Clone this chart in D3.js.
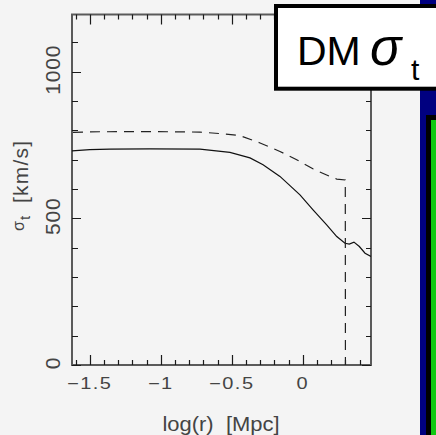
<!DOCTYPE html>
<html>
<head>
<meta charset="utf-8">
<script src="https://cdn.jsdelivr.net/npm/d3@7"></script>
<style>
  html, body { margin: 0; padding: 0; background: #f4f4f4; }
  svg { display: block; }
  text { font-family: 'Liberation Sans', Arial, sans-serif; fill: #444; }
</style>
</head>
<body>
<div id="chart"></div>
<script>
// solid curve: log(r) [Mpc] vs sigma_t [km/s]
const LOG_R_SOLID = [-1.625, -1.5, -1.357, -1.076, -0.724, -0.513, -0.372,
  -0.28, -0.161, -0.02, 0.072, 0.168, 0.239, 0.297, 0.327, 0.36, 0.398,
  0.438, 0.48];
const SIGMA_SOLID = [730, 734, 736, 737, 736, 725, 706, 683, 643, 580, 529,
  478, 438, 415, 412, 419, 404, 381, 370];

// dashed curve, ends with a drop to zero
const LOG_R_DASHED = [-1.618, -1.5, -1.076, -0.724, -0.583, -0.442, -0.301,
  -0.161, -0.043, 0.074, 0.191, 0.239, 0.299, 0.3];
const SIGMA_DASHED = [793, 795, 796, 794, 789, 782, 757, 728, 700, 668, 643,
  634, 631, 0];

const X_MAJOR_TICKS = [-1.5, -1, -0.5, 0];
const X_TICK_LABELS = ['\u22121.5', '\u22121', '\u22120.5', '0'];
const X_MINOR_TICKS = [-1.6, -1.4, -1.3, -1.2, -1.1, -0.9, -0.8, -0.7, -0.6,
  -0.4, -0.3, -0.2, -0.1, 0.1, 0.2, 0.3, 0.4];
const Y_MAJOR_TICKS = [0, 500, 1000];
const Y_TICK_LABELS = ['0', '500', '1000'];
const Y_MINOR_TICKS = [100, 200, 300, 400, 600, 700, 800, 900, 1100];

const WIDTH = 436;
const HEIGHT = 435;
const PLOT = {left: 72, right: 371, top: 14.5, bottom: 365};
const AXIS_COLOR = '#5a5a5a';
const TICK_COLOR = '#1a1a1a';

const xScale = d3.scaleLinear().domain([-1.625, 0.48])
    .range([PLOT.left, PLOT.right]);
const yScale = d3.scaleLinear().domain([0, 1195])
    .range([PLOT.bottom, PLOT.top]);

const svg = d3.select('#chart')
    .append('svg')
    .attr('width', WIDTH)
    .attr('height', HEIGHT);

svg.append('rect')
    .attr('width', WIDTH)
    .attr('height', HEIGHT)
    .attr('fill', '#f4f4f4');

// frame
svg.append('rect')
    .attr('x', PLOT.left)
    .attr('y', PLOT.top)
    .attr('width', PLOT.right - PLOT.left)
    .attr('height', PLOT.bottom - PLOT.top)
    .attr('fill', 'none')
    .attr('stroke', AXIS_COLOR)
    .attr('stroke-width', 2);

// tick marks on all four sides: [values, side, length]
const tickSpecs = [
  [X_MINOR_TICKS, 'bottom', 5], [X_MAJOR_TICKS, 'bottom', 10],
  [X_MINOR_TICKS, 'top', 5], [X_MAJOR_TICKS, 'top', 10],
  [Y_MINOR_TICKS, 'left', 6], [Y_MAJOR_TICKS, 'left', 9],
  [Y_MINOR_TICKS, 'right', 5], [Y_MAJOR_TICKS, 'right', 9],
];
const tickPaths = [];
for (const [values, side, len] of tickSpecs) {
  for (const v of values) {
    const px = Math.round(xScale(v)) + 0.5;
    const py = Math.round(yScale(v)) + 0.5;
    if (side === 'bottom') {
      tickPaths.push(`M${px},${PLOT.bottom}v${-len}`);
    } else if (side === 'top') {
      tickPaths.push(`M${px},${PLOT.top}v${len}`);
    } else if (side === 'left') {
      tickPaths.push(`M${PLOT.left},${py}h${len}`);
    } else {
      tickPaths.push(`M${PLOT.right},${py}h${-len}`);
    }
  }
}
svg.append('path')
    .attr('d', tickPaths.join(''))
    .attr('fill', 'none')
    .attr('stroke', TICK_COLOR)
    .attr('stroke-width', 1.2);

// x tick labels, a bit squashed vertically like the original
svg.selectAll('.x-label')
    .data(X_MAJOR_TICKS)
    .join('text')
    .attr('class', 'x-label')
    .attr('transform', d => `translate(${xScale(d)},389) scale(1,0.78)`)
    .attr('text-anchor', 'middle')
    .attr('font-size', 20)
    .attr('letter-spacing', 1.5)
    .text((d, i) => X_TICK_LABELS[i]);

// y tick labels, rotated
svg.selectAll('.y-label')
    .data(Y_MAJOR_TICKS)
    .join('text')
    .attr('class', 'y-label')
    .attr('transform', d => `translate(60,${yScale(d) - 2}) rotate(-90)`)
    .attr('text-anchor', 'middle')
    .attr('font-size', 21)
    .attr('letter-spacing', 0.8)
    .text((d, i) => Y_TICK_LABELS[i]);

// axis titles
svg.append('text')
    .attr('transform', 'translate(221,431) scale(1,0.9)')
    .attr('text-anchor', 'middle')
    .attr('font-size', 22)
    .text('log(r)\u00a0 [Mpc]');

const yTitle = svg.append('text')
    .attr('transform', 'translate(28,231) rotate(-90)')
    .attr('font-size', 21);
yTitle.append('tspan').attr('x', 0).attr('dy', -4)
    .attr('font-size', 16).text('\u03c3');
yTitle.append('tspan').attr('x', 11).attr('dy', 6)
    .attr('font-size', 15).text('t');
yTitle.append('tspan').attr('x', 28).attr('dy', -2)
    .attr('letter-spacing', 1.2).text('[km/s]');

// curves
svg.append('clipPath')
    .attr('id', 'plot-clip')
    .append('rect')
    .attr('x', PLOT.left)
    .attr('y', PLOT.top)
    .attr('width', PLOT.right - PLOT.left)
    .attr('height', PLOT.bottom - PLOT.top);

const line = d3.line()
    .x(d => xScale(d[0]))
    .y(d => yScale(d[1]));

svg.append('path')
    .datum(d3.zip(LOG_R_SOLID, SIGMA_SOLID))
    .attr('clip-path', 'url(#plot-clip)')
    .attr('d', line)
    .attr('fill', 'none')
    .attr('stroke', '#111')
    .attr('stroke-width', 1.2);

svg.append('path')
    .datum(d3.zip(LOG_R_DASHED, SIGMA_DASHED))
    .attr('clip-path', 'url(#plot-clip)')
    .attr('d', line)
    .attr('fill', 'none')
    .attr('stroke', '#222')
    .attr('stroke-width', 1.2)
    .attr('stroke-dasharray', '10,7');

// neighbouring panel peeking in on the right
svg.append('rect')
    .attr('x', 420).attr('y', 0)
    .attr('width', 16).attr('height', HEIGHT)
    .attr('fill', '#000080');
svg.append('rect')
    .attr('x', 426).attr('y', 115)
    .attr('width', 20).attr('height', HEIGHT)
    .attr('fill', '#000');
svg.append('rect')
    .attr('x', 431).attr('y', 120)
    .attr('width', 20).attr('height', HEIGHT)
    .attr('fill', '#10c810');

// title box
svg.append('rect')
    .attr('x', 276).attr('y', 6)
    .attr('width', 200).attr('height', 82.7)
    .attr('fill', '#fff')
    .attr('stroke', '#000')
    .attr('stroke-width', 4);

const title = svg.append('text')
    .attr('x', 297)
    .attr('y', 65)
    .attr('font-size', 41)
    .style('fill', '#000');
title.append('tspan').text('DM');
title.append('tspan')
    .attr('x', 370)
    .attr('font-size', 52)
    .attr('font-style', 'italic')
    .text('\u03c3');
title.append('tspan')
    .attr('x', 411)
    .attr('y', 80)
    .attr('font-size', 30)
    .text('t');
</script>
</body>
</html>
